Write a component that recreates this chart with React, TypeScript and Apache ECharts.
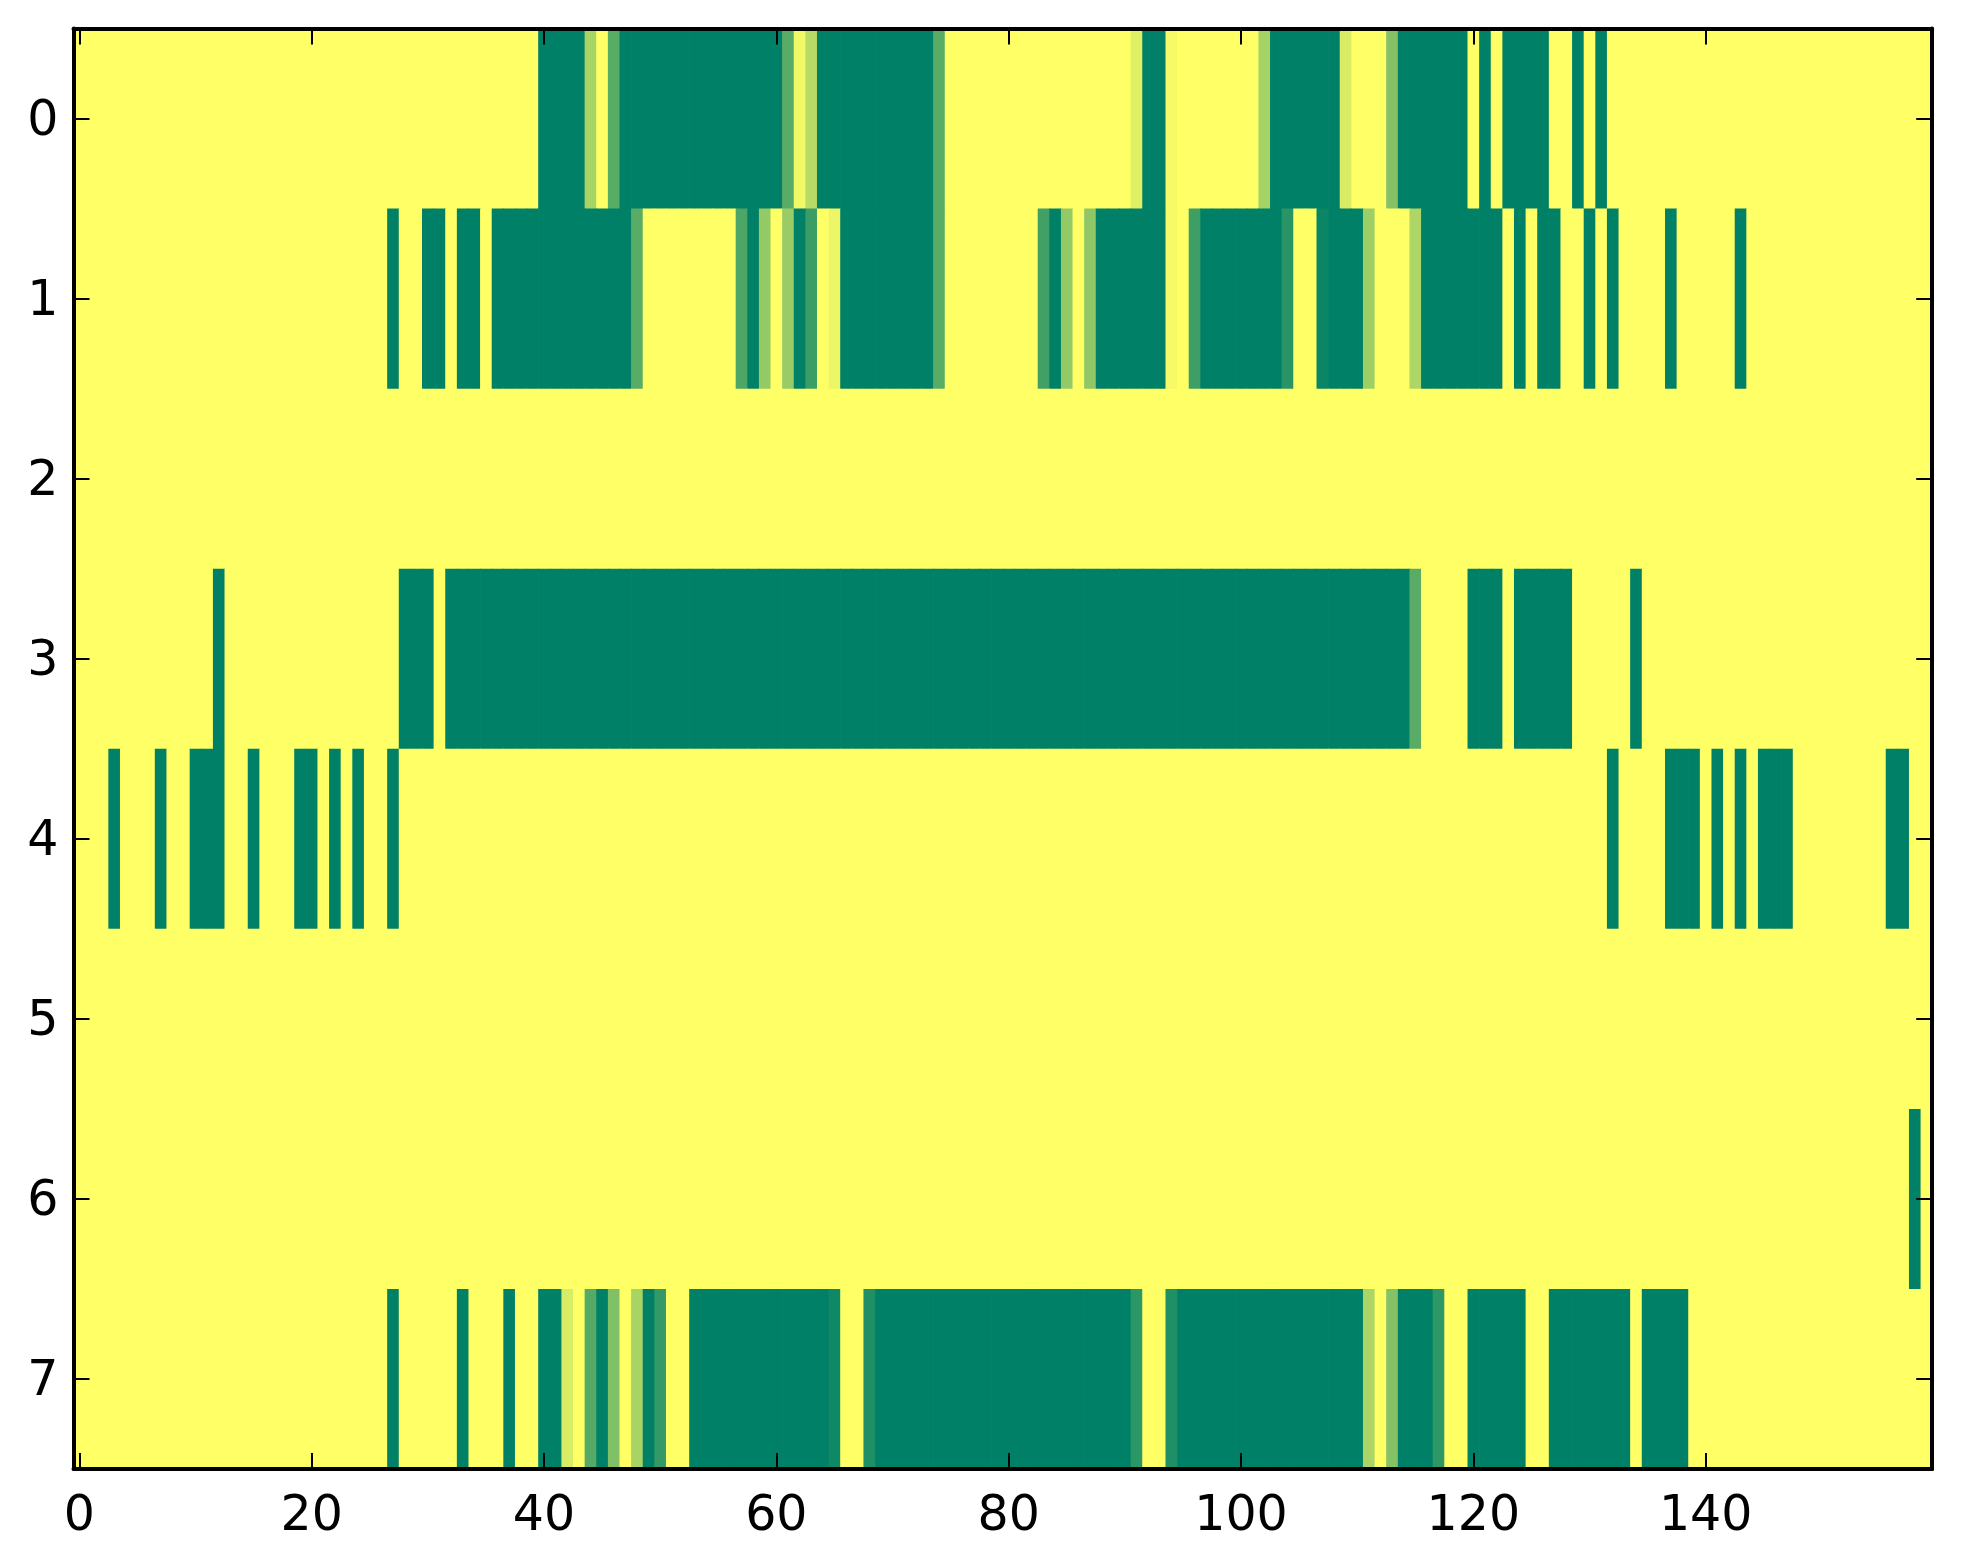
import React, { useEffect, useRef } from "react";
import * as echarts from "echarts";

// x categories: column indices 0..159 ; y categories: rows 0..7
const xCats: string[] = Array.from({ length: 160 }, (_, i) => String(i));
const yCats: string[] = ["0", "1", "2", "3", "4", "5", "6", "7"];
const xTickLabels: number[] = [0, 20, 40, 60, 80, 100, 120, 140];

const row0: number[] = [
  1,1,1,1,1,1,1,1,1,1,1,1,1,1,1,1,1,1,1,1,
  1,1,1,1,1,1,1,1,1,1,1,1,1,1,1,1,1,1,1,1,
  0,0,0,0,0.66,1,0.35,0,0,0,0,0,0,0,0,0,0,0,0,0,
  0,0.35,0.95,0.72,0,0,0,0,0,0,0,0,0,0,0.35,1,1,1,1,1,
  1,1,1,1,1,1,1,1,1,1,1,0.88,0,0,0.96,1,1,1,1,1,
  1,1,0.65,0,0,0,0,0,0,0.85,1,1,1,0.52,0,0,0,0,0,0,
  1,0,1,0,0,0,0,1,1,0,1,0,1,1,1,1,1,1,1,1,
  1,1,1,1,1,1,1,1,1,1,1,1,1,1,1,1,1,1,1,1,
];
const row1: number[] = [
  1,1,1,1,1,1,1,1,1,1,1,1,1,1,1,1,1,1,1,1,
  1,1,1,1,1,1,1,0,1,1,0,0,1,0,0,1,0,0,0,0,
  0,0,0,0,0,0,0,0,0.35,1,1,1,1,1,1,1,1,0.3,0,0.58,
  1,0.6,0,0.23,1,0.93,0,0,0,0,0,0,0,0,0.35,1,1,1,1,1,
  1,1,1,0.25,0,0.58,1,0.56,0,0,0,0,0,0,0.96,1,0.24,0,0,0,
  0,0,0,0,0.16,1,1,0.04,0,0,0,0.62,1,1,1,0.68,0,0,0,0,
  0,0,0,1,0,1,0,0,1,1,0,1,0,1,1,1,1,0,1,1,
  1,1,1,0,1,1,1,1,1,1,1,1,1,1,1,1,1,1,1,1,
];
const row2: number[] = [
  1,1,1,1,1,1,1,1,1,1,1,1,1,1,1,1,1,1,1,1,
  1,1,1,1,1,1,1,1,1,1,1,1,1,1,1,1,1,1,1,1,
  1,1,1,1,1,1,1,1,1,1,1,1,1,1,1,1,1,1,1,1,
  1,1,1,1,1,1,1,1,1,1,1,1,1,1,1,1,1,1,1,1,
  1,1,1,1,1,1,1,1,1,1,1,1,1,1,1,1,1,1,1,1,
  1,1,1,1,1,1,1,1,1,1,1,1,1,1,1,1,1,1,1,1,
  1,1,1,1,1,1,1,1,1,1,1,1,1,1,1,1,1,1,1,1,
  1,1,1,1,1,1,1,1,1,1,1,1,1,1,1,1,1,1,1,1,
];
const row3: number[] = [
  1,1,1,1,1,1,1,1,1,1,1,1,0,1,1,1,1,1,1,1,
  1,1,1,1,1,1,1,1,0,0,0,1,0,0,0,0,0,0,0,0,
  0,0,0,0,0,0,0,0,0,0,0,0,0,0,0,0,0,0,0,0,
  0,0,0,0,0,0,0,0,0,0,0,0,0,0,0,0,0,0,0,0,
  0,0,0,0,0,0,0,0,0,0,0,0,0,0,0,0,0,0,0,0,
  0,0,0,0,0,0,0,0,0,0,0,0,0,0,0,0.35,1,1,1,1,
  0,0,0,1,0,0,0,0,0,1,1,1,1,1,0,1,1,1,1,1,
  1,1,1,1,1,1,1,1,1,1,1,1,1,1,1,1,1,1,1,1,
];
const row4: number[] = [
  1,1,1,0,1,1,1,0,1,1,0,0,0,1,1,0,1,1,1,0,
  0,1,0,1,0,1,1,0,1,1,1,1,1,1,1,1,1,1,1,1,
  1,1,1,1,1,1,1,1,1,1,1,1,1,1,1,1,1,1,1,1,
  1,1,1,1,1,1,1,1,1,1,1,1,1,1,1,1,1,1,1,1,
  1,1,1,1,1,1,1,1,1,1,1,1,1,1,1,1,1,1,1,1,
  1,1,1,1,1,1,1,1,1,1,1,1,1,1,1,1,1,1,1,1,
  1,1,1,1,1,1,1,1,1,1,1,1,0,1,1,1,1,0,0,0,
  1,0,1,0,1,0,0,0,1,1,1,1,1,1,1,1,0,0,1,1,
];
const row5: number[] = [
  1,1,1,1,1,1,1,1,1,1,1,1,1,1,1,1,1,1,1,1,
  1,1,1,1,1,1,1,1,1,1,1,1,1,1,1,1,1,1,1,1,
  1,1,1,1,1,1,1,1,1,1,1,1,1,1,1,1,1,1,1,1,
  1,1,1,1,1,1,1,1,1,1,1,1,1,1,1,1,1,1,1,1,
  1,1,1,1,1,1,1,1,1,1,1,1,1,1,1,1,1,1,1,1,
  1,1,1,1,1,1,1,1,1,1,1,1,1,1,1,1,1,1,1,1,
  1,1,1,1,1,1,1,1,1,1,1,1,1,1,1,1,1,1,1,1,
  1,1,1,1,1,1,1,1,1,1,1,1,1,1,1,1,1,1,1,1,
];
const row6: number[] = [
  1,1,1,1,1,1,1,1,1,1,1,1,1,1,1,1,1,1,1,1,
  1,1,1,1,1,1,1,1,1,1,1,1,1,1,1,1,1,1,1,1,
  1,1,1,1,1,1,1,1,1,1,1,1,1,1,1,1,1,1,1,1,
  1,1,1,1,1,1,1,1,1,1,1,1,1,1,1,1,1,1,1,1,
  1,1,1,1,1,1,1,1,1,1,1,1,1,1,1,1,1,1,1,1,
  1,1,1,1,1,1,1,1,1,1,1,1,1,1,1,1,1,1,1,1,
  1,1,1,1,1,1,1,1,1,1,1,1,1,1,1,1,1,1,1,1,
  1,1,1,1,1,1,1,1,1,1,1,1,1,1,1,1,1,1,0,1,
];
const row7: number[] = [
  1,1,1,1,1,1,1,1,1,1,1,1,1,1,1,1,1,1,1,1,
  1,1,1,1,1,1,1,0,1,1,1,1,1,0,1,1,1,0,1,1,
  0,0,0.85,1,0.33,0,0.5,1,0.66,0,0.2,1,1,0,0,0,0,0,0,0,
  0,0,0,0,0,0.06,1,1,0.12,0,0,0,0,0,0,0,0,0,0,0,
  0,0,0,0,0,0,0,0,0,0,0,0.17,1,1,0.12,0,0,0,0,0,
  0,0,0,0,0,0,0,0,0,0,0,0.67,1,0.52,0,0,0,0.18,1,1,
  0,0,0,0,0,1,1,0,0,0,0,0,0,0,1,0,0,0,0,1,
  1,1,1,1,1,1,1,1,1,1,1,1,1,1,1,1,1,1,1,1,
];

const rows: number[][] = [row0, row1, row2, row3, row4, row5, row6, row7];

const FONT = "DejaVu Sans";
const FS = 49;

export default function App() {
  const ref = useRef<HTMLDivElement | null>(null);

  useEffect(() => {
    if (!ref.current) return;
    const chart = echarts.init(ref.current, null, { renderer: "svg" });

    const data: number[][] = [];
    rows.forEach((r, yi) => {
      r.forEach((v, xi) => {
        data.push([xi, yi, v]);
      });
    });

    const labelSet = new Set(xTickLabels.map(String));
    const xTickFn = (idx: number, val: string) => labelSet.has(String(val));

    const lineStyle = { color: "#000", width: 4 };
    const tickStyle = { color: "#000", width: 2 };

    chart.setOption({
      animation: false,
      backgroundColor: "#ffffff",
      grid: { left: 73.5, top: 28.5, width: 1858.7, height: 1440.5, containLabel: false },
      visualMap: {
        type: "continuous",
        show: false,
        min: 0,
        max: 1,
        dimension: 2,
        seriesIndex: 0,
        inRange: { color: ["#008066", "#ffff66"] },
      },
      xAxis: [
        {
          type: "category",
          data: xCats,
          position: "bottom",
          boundaryGap: true,
          z: 10,
          axisLine: { show: true, lineStyle, onZero: false },
          axisTick: { show: true, inside: true, length: 16, alignWithLabel: true, interval: xTickFn, lineStyle: tickStyle },
          axisLabel: { show: true, interval: xTickFn, margin: 20, color: "#000", fontFamily: FONT, fontSize: FS },
          splitLine: { show: false },
        },
        {
          type: "category",
          data: xCats,
          position: "top",
          boundaryGap: true,
          z: 10,
          axisLine: { show: true, lineStyle, onZero: false },
          axisTick: { show: true, inside: true, length: 16, alignWithLabel: true, interval: xTickFn, lineStyle: tickStyle },
          axisLabel: { show: false },
          splitLine: { show: false },
        },
      ],
      yAxis: [
        {
          type: "category",
          data: yCats,
          inverse: true,
          position: "left",
          boundaryGap: true,
          z: 10,
          axisLine: { show: true, lineStyle, onZero: false },
          axisTick: { show: true, inside: true, length: 16, alignWithLabel: true, interval: 0, lineStyle: tickStyle },
          axisLabel: { show: true, interval: 0, margin: 15, color: "#000", fontFamily: FONT, fontSize: FS },
          splitLine: { show: false },
        },
        {
          type: "category",
          data: yCats,
          inverse: true,
          position: "right",
          boundaryGap: true,
          z: 10,
          axisLine: { show: true, lineStyle, onZero: false },
          axisTick: { show: true, inside: true, length: 16, alignWithLabel: true, interval: 0, lineStyle: tickStyle },
          axisLabel: { show: false },
          splitLine: { show: false },
        },
      ],
      series: [
        {
          type: "custom",
          xAxisIndex: 0,
          yAxisIndex: 0,
          data,
          encode: { x: 0, y: 1 },
          z: 1,
          renderItem: (params: any, api: any) => {
            const p = api.coord([api.value(0), api.value(1)]);
            const s = api.size([1, 1]);
            return {
              type: "rect",
              shape: { x: p[0] - s[0] / 2, y: p[1] - s[1] / 2, width: s[0] + 0.7, height: s[1] + 0.7 },
              style: { fill: api.visual("color"), stroke: null },
            };
          },
        },
      ],
    });

    return () => chart.dispose();
  }, []);

  return (
    <div
      ref={ref}
      style={{ position: "fixed", left: 0, top: 0, width: 1963, height: 1564, background: "#fff" }}
    />
  );
}
